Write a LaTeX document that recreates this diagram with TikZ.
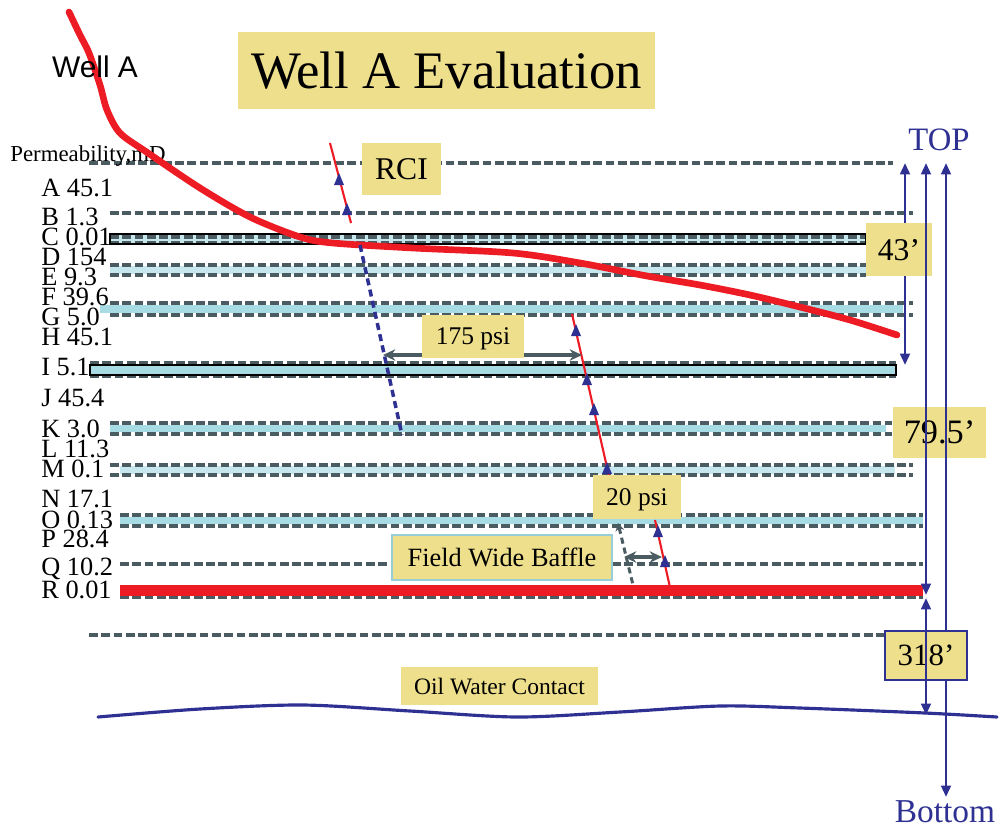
\documentclass[tikz,border=0pt]{standalone}
\usepackage{fontspec}
\setmainfont{Liberation Serif}
\newfontfamily\wellfont{Liberation Sans}
\usetikzlibrary{arrows.meta}

\definecolor{dashgray}{RGB}{74,92,97}
\definecolor{bandblue}{RGB}{168,220,228}
\definecolor{dotblue}{RGB}{198,231,237}
\definecolor{tagyellow}{RGB}{238,223,140}
\definecolor{probered}{RGB}{237,28,36}
\definecolor{navy}{RGB}{46,49,146}
\definecolor{baffleblue}{RGB}{150,205,215}

\begin{document}
\begin{tikzpicture}[
    x=0.02cm, y=-0.02cm,
    >=Stealth,
    dashline/.style={draw=dashgray, line width=1.9pt, dash pattern=on 5pt off 2pt},
    band/.style={fill=bandblue},
    dotband/.style={fill=dotblue},
    edge/.style={draw=black, line width=0.8pt},
    tag/.style={fill=tagyellow, inner sep=0pt, text depth=0pt, align=center},
    perm/.style={anchor=base west, inner sep=0pt, font=\fontsize{15}{15}\selectfont},
    probe/.style={draw=probered, line width=1.2pt},
    span/.style={draw=navy, line width=1.5pt,
                 {Triangle[length=6.5pt,width=5.5pt]}-{Triangle[length=6.5pt,width=5.5pt]}},
    psigap/.style={draw=dashgray, line width=2pt,
                   {Stealth[length=7pt,width=6.5pt]}-{Stealth[length=7pt,width=6.5pt]}},
    tri/.pic={\fill[navy] (-5,5) -- (5,5) -- (0,-7) -- cycle;},
]
\useasboundingbox (0,0) rectangle (1000,829);

% layers and markers
\draw[dashline] (89,163) -- (893,163);
\draw[dashline, line width=2.5pt] (110,213) -- (913,213);
\fill[dotband] (110,234) rectangle (866,244);
\draw[dashline] (110,237) -- (866,237);
\draw[dashline] (110,243) -- (866,243);
\draw[edge] (110,234) rectangle (866,244);
\fill[dotband] (110,266) rectangle (866,274);
\draw[dashline] (110,265) -- (866,265);
\draw[dashline] (110,275) -- (866,275);
\fill[band] (100,305) rectangle (903,313);
\draw[dashline] (110,303) -- (913,303);
\draw[dashline] (110,315) -- (913,315);
\fill[band] (90,365) rectangle (896,375);
\draw[dashline] (90,363) -- (896,363);
\draw[dashline] (90,376) -- (896,376);
\draw[edge] (90,365) rectangle (896,375);
\fill[band] (110,425) rectangle (886,432);
\draw[dashline] (110,423) -- (892,423);
\draw[dashline] (110,434) -- (892,434);
\fill[dotband] (120,466) rectangle (895,474);
\draw[dashline] (110,465) -- (913,465);
\draw[dashline] (110,475) -- (913,475);
\fill[band] (120,517) rectangle (923,524);
\draw[dashline] (120,515) -- (923,515);
\draw[dashline] (120,526) -- (923,526);
\draw[dashline] (120,564) -- (923,564);
\draw[dashline] (120,597) -- (923,597);
\fill[probered] (120,585) rectangle (923,596);
\draw[dashline] (89,635) -- (885,635);

% permeability column
\node[anchor=base west, inner sep=0pt, font=\fontsize{13}{13}\selectfont] (permhead) at (10,161) {Permeability,mD};
\node[perm] (kA) at (41,196) {A 45.1};
\node[perm] (kB) at (41,225) {B 1.3};
\node[perm] (kC) at (41,245) {C 0.01};
\node[perm] (kD) at (41,265) {D 154};
\node[perm] (kE) at (41,285) {E 9.3};
\node[perm] (kF) at (41,305) {F 39.6};
\node[perm] (kG) at (41,325) {G 5.0};
\node[perm] (kH) at (41,345) {H 45.1};
\node[perm] (kI) at (41,375) {I 5.1};
\node[perm] (kJ) at (41,406) {J 45.4};
\node[perm] (kK) at (41,437) {K 3.0};
\node[perm] (kL) at (41,457) {L 11.3};
\node[perm] (kM) at (41,477) {M 0.1};
\node[perm] (kN) at (41,507) {N 17.1};
\node[perm] (kO) at (41,528) {O 0.13};
\node[perm] (kP) at (41,547) {P 28.4};
\node[perm] (kQ) at (41,575) {Q 10.2};
\node[perm] (kR) at (41,598) {R 0.01};

% well trajectory
\draw[probered, line width=3.8pt, line cap=round] plot[smooth] coordinates {
    (69,12) (80,35) (89,53) (100,85) (107,110) (120,133) (148,153) (200,188)
    (250,217) (300,237) (333,243) (413,248) (513,253) (580,263) (647,276)
    (700,285) (750,295) (800,307) (850,320) (897,335)};
\node[font=\wellfont\fontsize{17}{17}\selectfont, inner sep=0pt] (well) at (95,67) {Well A};

% pressure gradients
\draw[probe] (330,143) -- (351,223);
\pic at (339,180) {tri};
\pic at (347,210) {tri};
\draw[navy, line width=2pt, dash pattern=on 4pt off 2.5pt] (360,245) -- (402,435);
\draw[probe] (572,314) -- (609,476);
\pic at (576,331) {tri};
\pic at (587,380) {tri};
\pic at (594,410) {tri};
\pic at (607,469) {tri};
\draw[probe] (655,520) -- (671,592);
\pic at (658,532) {tri};
\pic at (665,562) {tri};
\draw[dashgray, line width=1.7pt, dash pattern=on 3.5pt off 2.3pt,
      {Stealth[length=4.5pt,width=5pt]}-] (618,523) -- (633,585);
\draw[psigap] (383,355) -- (582,355);
\draw[psigap] (624,557) -- (662,557);

% labels
\node[tag, minimum width=8.34cm, minimum height=1.54cm, font=\fontsize{30}{30}\selectfont] (title) at (446.5,70.5) {Well A Evaluation};
\node[tag, minimum width=1.58cm, minimum height=1.04cm, font=\fontsize{18}{18}\selectfont] (rci) at (401.5,169) {RCI};
\node[tag, minimum width=2.04cm, minimum height=0.86cm, font=\fontsize{14.5}{14.5}\selectfont] (psiA) at (473,336.5) {175 psi};
\node[tag, minimum width=1.76cm, minimum height=0.88cm, font=\fontsize{14.5}{14.5}\selectfont] (psiB) at (637,497) {20 psi};
\node[tag, draw=baffleblue, line width=0.8pt, minimum width=4.4cm, minimum height=0.9cm, font=\fontsize{15}{15}\selectfont] (baffle) at (502,557.5) {Field Wide Baffle};
\node[tag, minimum width=3.94cm, minimum height=0.76cm, font=\fontsize{13.4}{13.4}\selectfont] (owc) at (499.5,686) {Oil Water Contact};

% oil water contact
\draw[navy, line width=1.8pt, line cap=round] plot[smooth] coordinates {
    (98,717) (200,709) (303,705) (410,711) (517,717) (620,712) (720,706)
    (800,708) (925,713) (997,717)};

% depth spans
\draw[span] (905,163) -- (905,365);
\node[tag, minimum width=1.32cm, minimum height=1.06cm, font=\fontsize{18}{18}\selectfont] (ftA) at (899,249.5) {43’};
\node[tag, minimum width=1.86cm, minimum height=1.02cm, font=\fontsize{19.5}{19.5}\selectfont] (ftB) at (939.5,432.5) {79.5’};
\draw[span] (946,163) -- (946,797);
\node[tag, draw=navy, line width=0.8pt, minimum width=1.64cm, minimum height=0.98cm, font=\fontsize{17.6}{17.6}\selectfont] (ftC) at (926,655.5) {318’};
\draw[span] (926,163) -- (926,595);
\draw[span] (926,598) -- (926,715);
\node[text=navy, inner sep=0pt, text depth=0pt, font=\fontsize{18.6}{18.6}\selectfont] (top) at (939,140) {TOP};
\node[text=navy, inner sep=0pt, text depth=0pt, font=\fontsize{19}{19}\selectfont] (bottom) at (945,812) {Bottom};

\end{tikzpicture}
\end{document}
